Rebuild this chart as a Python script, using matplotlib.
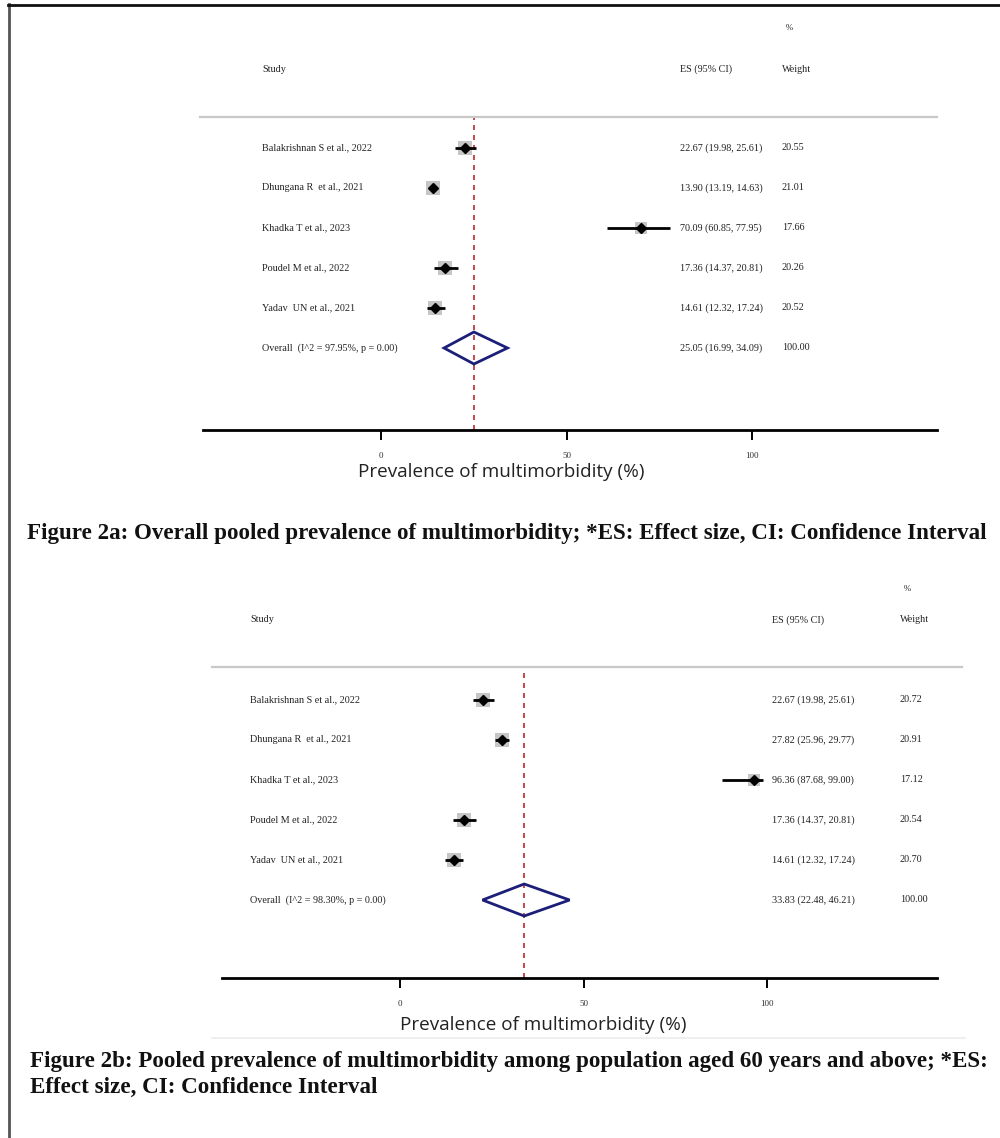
import matplotlib
matplotlib.use('Agg')
import matplotlib.pyplot as plt
from matplotlib.patches import Polygon
from matplotlib.lines import Line2D
import matplotlib.transforms as mtransforms

W, H = 1000, 1138

studies = ["Balakrishnan S et al., 2022", "Dhungana R  et al., 2021",
           "Khadka T et al., 2023", "Poudel M et al., 2022",
           "Yadav  UN et al., 2021"]

es_a = [22.67, 13.90, 70.09, 17.36, 14.61]
lci_a = [19.98, 13.19, 60.85, 14.37, 12.32]
uci_a = [25.61, 14.63, 77.95, 20.81, 17.24]
wt_a = [20.55, 21.01, 17.66, 20.26, 20.52]
overall_a = [25.05, 16.99, 34.09]
i2_a = "97.95"

es_b = [22.67, 27.82, 96.36, 17.36, 14.61]
lci_b = [19.98, 25.96, 87.68, 14.37, 12.32]
uci_b = [25.61, 29.77, 99.00, 20.81, 17.24]
wt_b = [20.72, 20.91, 17.12, 20.54, 20.70]
overall_b = [33.83, 22.48, 46.21]
i2_b = "98.30"

xticks = [0, 50, 100]
xlabel = "Prevalence of multimorbidity (%)"
caption_a = ("Figure 2a: Overall pooled prevalence of multimorbidity; "
             "*ES: Effect size, CI: Confidence Interval")
caption_b1 = ("Figure 2b: Pooled prevalence of multimorbidity among population "
              "aged 60 years and above; *ES:")
caption_b2 = "Effect size, CI: Confidence Interval"

SERIF = "Liberation Serif"
SANS = "Open Sans"

fig = plt.figure(figsize=(W / 100, H / 100), dpi=100)


def fx(x):
    return x / W


def fy(y):
    return 1 - y / H


def panel(es, lci, uci, wt, overall, i2, L):
    x0, x1 = L["ax_x0"], L["ax_x1"]
    yg, ya, yr = L["y_gray"], L["y_axis"], L["y_row0"]
    ax = fig.add_axes([fx(x0), fy(ya), (x1 - x0) / W, (ya - yg) / H])
    ppu = (L["p100"] - L["p0"]) / 100.0
    ax.set_xlim((x0 - L["p0"]) / ppu, (x1 - L["p0"]) / ppu)
    ax.set_ylim((ya - yr) / 40.0, (yg - yr) / 40.0)
    for s in ["left", "right", "top"]:
        ax.spines[s].set_visible(False)
    ax.spines["bottom"].set_linewidth(2)
    ax.set_yticks([])
    ax.set_xticks(xticks)
    ax.set_xticklabels([str(t) for t in xticks], fontfamily=SERIF,
                       fontsize=6.5, color="#333333")
    ax.tick_params(axis="x", direction="out", length=7, width=1.4,
                   pad=9, color="black")
    ax.patch.set_alpha(0)

    n = len(es)
    for i in range(n):
        ax.scatter([es[i]], [i], marker="s", s=wt[i] * 4.4,
                   color="#c6c6c6", zorder=2, linewidths=0)
        ax.plot([lci[i], uci[i]], [i, i], color="black", lw=2,
                zorder=3, solid_capstyle="butt")
        ax.plot([es[i]], [i], marker="D", ms=5, color="black", zorder=4)
    e, lo, hi = overall
    ax.add_patch(Polygon([(lo, n), (e, n - 0.4), (hi, n), (e, n + 0.4)],
                         closed=True, fill=False, edgecolor="#1c1f78",
                         lw=2, zorder=3))
    ax.axvline(e, color="#c0272d", lw=1.2, ls=(0, (3, 3)), zorder=1)

    tr = mtransforms.blended_transform_factory(fig.transFigure, ax.transData)
    fs = 7.3
    tk = dict(transform=tr, va="center", ha="left", fontfamily=SERIF,
              fontsize=fs, color="#222222")
    for i in range(n):
        ax.text(fx(L["x_study"]), i, studies[i], **tk)
        ax.text(fx(L["x_es"]), i,
                f"{es[i]:.2f} ({lci[i]:.2f}, {uci[i]:.2f})", **tk)
        ax.text(fx(L["x_wt"]), i, f"{wt[i]:.2f}", **tk)
    ax.text(fx(L["x_study"]), n, f"Overall  (I^2 = {i2}%, p = 0.00)", **tk)
    ax.text(fx(L["x_es"]), n, f"{e:.2f} ({lo:.2f}, {hi:.2f})", **tk)
    ax.text(fx(L["x_wt"]), n, "100.00", **tk)
    yh = (L["y_head"] - yr) / 40.0
    yp = (L["y_pct"] - yr) / 40.0
    ax.text(fx(L["x_study"]), yh, "Study", **tk)
    ax.text(fx(L["x_es"]), yh, "ES (95% CI)", **tk)
    ax.text(fx(L["x_wt"]), yh, "Weight", **tk)
    tkp = dict(tk)
    tkp["fontsize"] = fs - 1
    ax.text(fx(L["x_wt"] + 4), yp, "%", **tkp)
    fig.add_artist(Line2D([fx(L["g_x0"]), fx(L["g_x1"])], [fy(yg), fy(yg)],
                          color="#c8c8c8", lw=1.6))
    fig.text(fx(L["x_label"]), fy(L["y_label"]), xlabel, ha="center",
             va="center", fontfamily=SANS, fontsize=13.6,
             color="#222222")
    return ax


LA = dict(ax_x0=203, ax_x1=937, p0=381, p100=752, y_gray=117, y_axis=430,
          y_row0=148, y_head=69, y_pct=28, x_study=262, x_es=680, x_wt=782,
          g_x0=200, g_x1=937, x_label=501, y_label=472)
LB = dict(ax_x0=222, ax_x1=937, p0=400, p100=767, y_gray=667, y_axis=978,
          y_row0=700, y_head=620, y_pct=589, x_study=250, x_es=772, x_wt=900,
          g_x0=212, g_x1=962, x_label=543, y_label=1025)

panel(es_a, lci_a, uci_a, wt_a, overall_a, i2_a, LA)
panel(es_b, lci_b, uci_b, wt_b, overall_b, i2_b, LB)

fig.add_artist(Line2D([fx(212), fx(965)], [fy(1038), fy(1038)],
                      color="#ececec", lw=1.2))

cap_kw = dict(fontfamily=SERIF, fontweight="bold", fontsize=16.6,
              va="center", ha="left", color="#111111")
fig.text(fx(27), fy(533), caption_a, **cap_kw)
fig.text(fx(30), fy(1061), caption_b1, **cap_kw)
fig.text(fx(30), fy(1087), caption_b2, **cap_kw)

fig.add_artist(Line2D([fx(8.5), fx(8.5)], [fy(4), fy(1138)],
                      color="#555555", lw=2))
fig.add_artist(Line2D([fx(8), fx(1000)], [fy(4.5), fy(4.5)],
                      color="#111111", lw=2))

fig.savefig("out.png", dpi=100)
